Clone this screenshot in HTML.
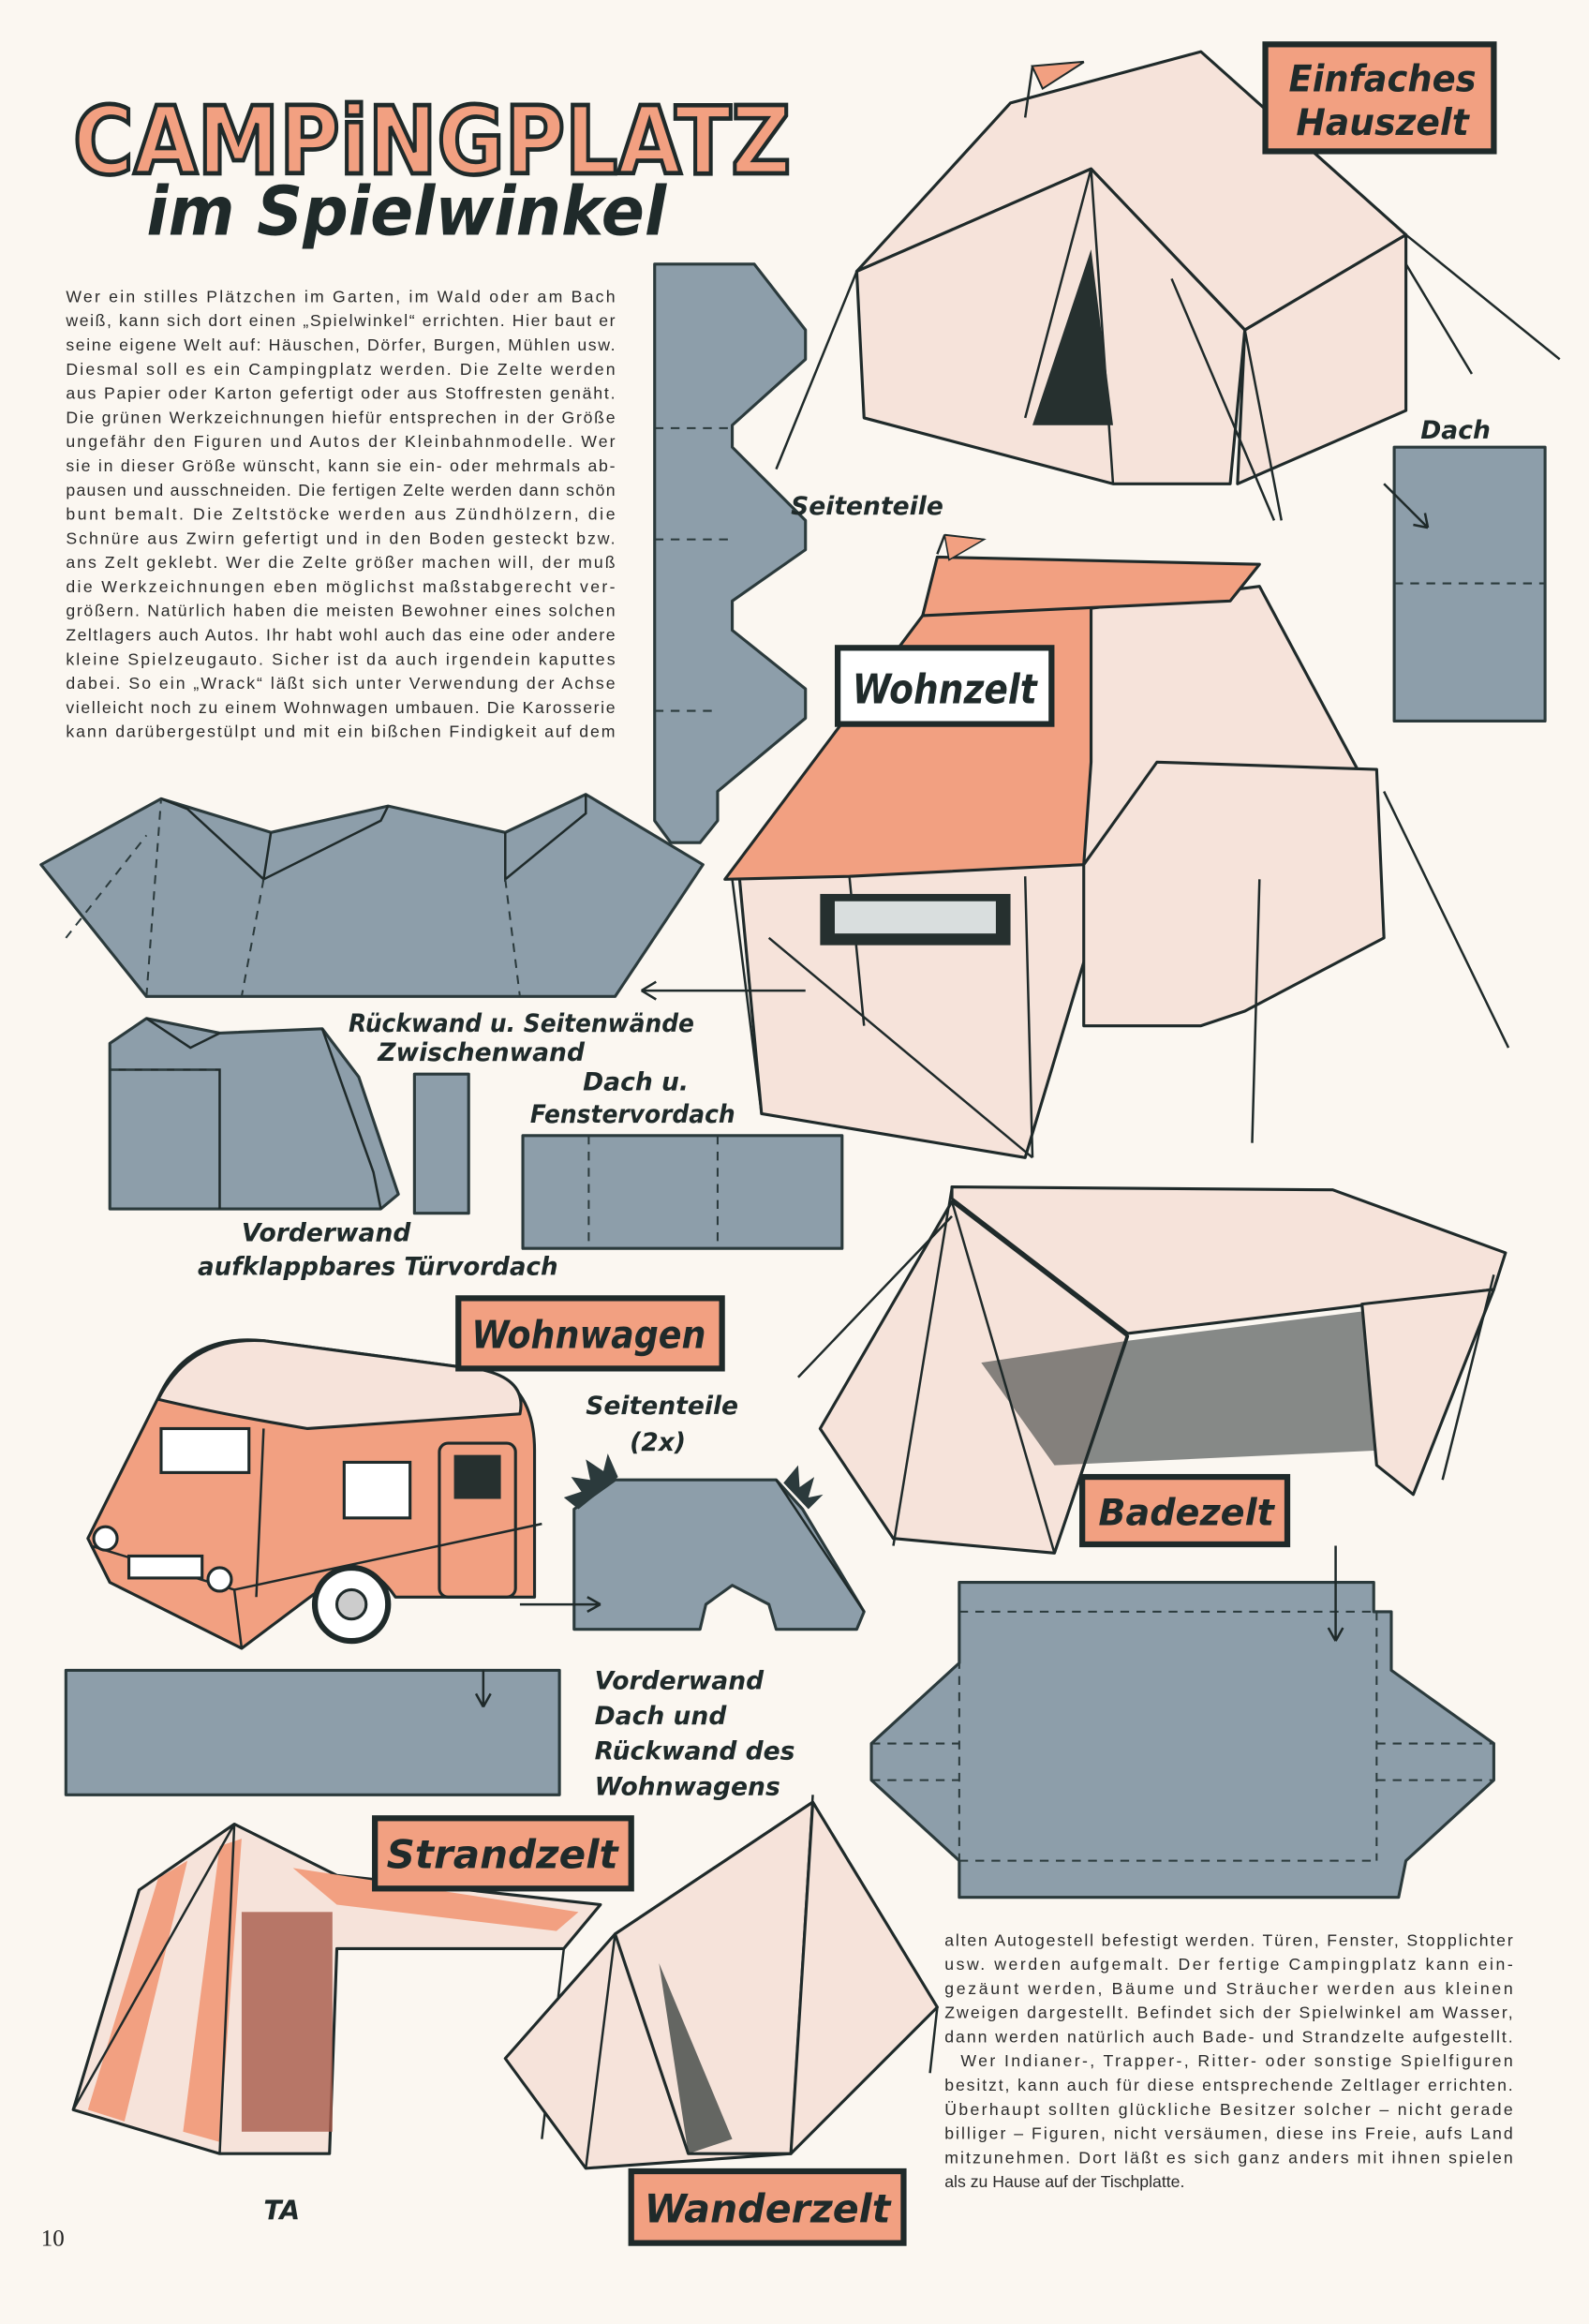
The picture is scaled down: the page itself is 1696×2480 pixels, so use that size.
<!DOCTYPE html>
<html><head><meta charset="utf-8"><style>
html,body{margin:0;padding:0;background:#fbf7f1}
svg{display:block}
.t{font-family:"Liberation Sans",sans-serif;font-size:11.3px;fill:#2a2a2a}
.h{font-family:"DejaVu Sans",sans-serif;font-weight:bold;font-style:italic;fill:#1f2a2a}
.g{fill:#8d9eaa;stroke:#2b3a3c;stroke-width:2;stroke-linejoin:round}
.d{fill:none;stroke:#2b3a3c;stroke-width:1.3;stroke-dasharray:6 5}
.ln{fill:none;stroke:#1f2a2a;stroke-width:1.6}
.pk{fill:#f6e3da;stroke:#1f2a2a;stroke-width:2;stroke-linejoin:round}
.sa{fill:#f2a081;stroke:#1f2a2a;stroke-width:2;stroke-linejoin:round}
.dk{fill:#26302f}
.box{fill:#f2a081;stroke:#1f2a2a;stroke-width:4}
</style></head><body>
<svg width="1696" height="2480" viewBox="0 0 1085 1586" xmlns="http://www.w3.org/2000/svg">
<rect width="1085" height="1586" fill="#fbf7f1"/>
<!-- Title -->
<text x="50" y="118" font-family="DejaVu Sans" font-weight="bold" font-size="64" fill="#f2a081" stroke="#1f2a2a" stroke-width="3" textLength="490" lengthAdjust="spacingAndGlyphs">CAMPiNGPLATZ</text>
<text x="100" y="160" class="h" font-size="46" textLength="355" lengthAdjust="spacingAndGlyphs" font-family="DejaVu Serif">im Spielwinkel</text>
<!-- Left paragraph -->
<g class="t">
<text x="45" y="206" textLength="375">Wer ein stilles Plätzchen im Garten, im Wald oder am Bach</text>
<text x="45" y="222.5" textLength="375">weiß, kann sich dort einen „Spielwinkel“ errichten. Hier baut er</text>
<text x="45" y="239" textLength="375">seine eigene Welt auf: Häuschen, Dörfer, Burgen, Mühlen usw.</text>
<text x="45" y="255.5" textLength="375">Diesmal soll es ein Campingplatz werden. Die Zelte werden</text>
<text x="45" y="272" textLength="375">aus Papier oder Karton gefertigt oder aus Stoffresten genäht.</text>
<text x="45" y="288.5" textLength="375">Die grünen Werkzeichnungen hiefür entsprechen in der Größe</text>
<text x="45" y="305" textLength="375">ungefähr den Figuren und Autos der Kleinbahnmodelle. Wer</text>
<text x="45" y="321.5" textLength="375">sie in dieser Größe wünscht, kann sie ein- oder mehrmals ab-</text>
<text x="45" y="338" textLength="375">pausen und ausschneiden. Die fertigen Zelte werden dann schön</text>
<text x="45" y="354.5" textLength="375">bunt bemalt. Die Zeltstöcke werden aus Zündhölzern, die</text>
<text x="45" y="371" textLength="375">Schnüre aus Zwirn gefertigt und in den Boden gesteckt bzw.</text>
<text x="45" y="387.5" textLength="375">ans Zelt geklebt. Wer die Zelte größer machen will, der muß</text>
<text x="45" y="404" textLength="375">die Werkzeichnungen eben möglichst maßstabgerecht ver-</text>
<text x="45" y="420.5" textLength="375">größern. Natürlich haben die meisten Bewohner eines solchen</text>
<text x="45" y="437" textLength="375">Zeltlagers auch Autos. Ihr habt wohl auch das eine oder andere</text>
<text x="45" y="453.5" textLength="375">kleine Spielzeugauto. Sicher ist da auch irgendein kaputtes</text>
<text x="45" y="470" textLength="375">dabei. So ein „Wrack“ läßt sich unter Verwendung der Achse</text>
<text x="45" y="486.5" textLength="375">vielleicht noch zu einem Wohnwagen umbauen. Die Karosserie</text>
<text x="45" y="503" textLength="375">kann darübergestülpt und mit ein bißchen Findigkeit auf dem</text>
</g>
<!-- Right bottom paragraph -->
<g class="t">
<text x="645" y="1328" textLength="388">alten Autogestell befestigt werden. Türen, Fenster, Stopplichter</text>
<text x="645" y="1344.5" textLength="388">usw. werden aufgemalt. Der fertige Campingplatz kann ein-</text>
<text x="645" y="1361" textLength="388">gezäunt werden, Bäume und Sträucher werden aus kleinen</text>
<text x="645" y="1377.5" textLength="388">Zweigen dargestellt. Befindet sich der Spielwinkel am Wasser,</text>
<text x="645" y="1394" textLength="388">dann werden natürlich auch Bade- und Strandzelte aufgestellt.</text>
<text x="656" y="1410.5" textLength="377">Wer Indianer-, Trapper-, Ritter- oder sonstige Spielfiguren</text>
<text x="645" y="1427" textLength="388">besitzt, kann auch für diese entsprechende Zeltlager errichten.</text>
<text x="645" y="1443.5" textLength="388">Überhaupt sollten glückliche Besitzer solcher – nicht gerade</text>
<text x="645" y="1460" textLength="388">billiger – Figuren, nicht versäumen, diese ins Freie, aufs Land</text>
<text x="645" y="1476.5" textLength="388">mitzunehmen. Dort läßt es sich ganz anders mit ihnen spielen</text>
<text x="645" y="1493">als zu Hause auf der Tischplatte.</text>
</g>
<text x="28" y="1533" font-family="Liberation Serif" font-size="16" fill="#222">10</text>

<!-- Tall vertical net -->
<polygon class="g" points="447,180 515,180 550,225 550,245 500,290 500,305 550,355 550,375 500,410 500,430 550,470 550,490 490,540 490,560 478,575 458,575 447,560"/>
<path class="d" d="M447,292 H500 M447,368 H500 M447,485 H490"/>
<!-- Big net -->
<polygon class="g" points="28,590 110,545 185,568 265,550 345,568 400,542 480,590 420,680 100,680"/>
<path class="ln" d="M110,545 L128,552 L180,600 M185,568 L180,600 L260,560 L265,550 M345,568 L345,600 L400,555 L400,542"/>
<path class="d" d="M100,680 L110,545 M180,600 L165,680 M345,600 L355,680 M45,640 L100,570"/>
<!-- Rückwand net -->
<polygon class="g" points="75,712 100,695 150,705 220,702 245,735 272,815 260,825 75,825"/>
<path class="ln" d="M100,695 L130,715 L150,705 M75,730 L150,730 L150,825 M220,702 L255,800 L260,825"/>
<path class="d" d="M75,730 L150,730"/>
<rect class="g" x="283" y="733" width="37" height="95"/>
<rect class="g" x="357" y="775" width="218" height="77"/>
<path class="d" d="M402,775 V852 M490,775 V852"/>
<!-- Dach rect -->
<rect class="g" x="952" y="305" width="103" height="187"/>
<path class="d" d="M952,398 H1055"/>
<path class="ln" d="M945,330 L975,360 M975,360 l-2,-10 M975,360 l-10,-2"/>
<!-- Wohnwagen side -->
<polygon class="g" points="392,1030 420,1010 530,1010 548,1030 590,1100 585,1112 530,1112 525,1095 500,1082 482,1095 478,1112 392,1112"/>
<path class="ln" d="M530,1010 L590,1100"/>
<polygon points="395,1030 385,1022 397,1018 390,1008 403,1010 400,996 412,1004 415,992 422,1008" fill="#2b3a3c"/>
<polygon points="535,1012 545,1000 546,1015 556,1008 552,1022 562,1020 552,1030" fill="#2b3a3c"/>
<!-- Long rect -->
<rect class="g" x="45" y="1140" width="337" height="85"/>
<!-- Badezelt net -->
<polygon class="g" points="595,1190 655,1135 655,1080 938,1080 938,1100 950,1100 950,1140 1020,1190 1020,1215 960,1270 955,1295 655,1295 655,1270 595,1215"/>
<path class="d" d="M655,1100 H940 M655,1270 H940 M655,1100 V1270 M940,1100 V1270 M595,1190 L655,1190 M940,1190 H1020 M595,1215 L655,1215 M940,1215 H1020"/>

<!-- Hauszelt -->
<polygon class="pk" points="585,185 690,70 820,35 960,160 850,225 745,115"/>
<polygon class="pk" points="585,185 745,115 850,225 840,330 760,330 590,285"/>
<polygon class="pk" points="850,225 960,160 960,280 845,330"/>
<path class="ln" d="M700,80 L705,45 M705,45 L740,42 L712,60 Z M745,115 L700,285 M745,115 L760,330 M820,35 L960,160 M585,185 L530,320 M960,160 L1065,245 M960,180 L1005,255 M850,225 L875,355 M800,190 L870,355"/>
<polygon class="dk" points="705,290 745,170 760,290"/>
<path d="M705,45 L740,42 L712,60 Z" fill="#f2a081" stroke="#1f2a2a"/>
<!-- Wohnzelt -->
<polygon class="pk" points="505,600 630,430 860,400 935,540 890,600 760,590 700,790 520,760"/>
<polygon class="sa" points="495,600 630,420 745,400 745,520 740,590 580,598"/>
<polygon class="sa" points="630,420 640,380 860,385 840,410"/>
<polygon class="pk" points="740,590 790,520 940,525 945,640 850,690 820,700 740,700"/>
<path class="ln" d="M500,600 L520,760 M580,598 L590,700 M700,598 L705,790 M860,600 L855,780 M945,540 L1030,715 M525,640 L705,790 M640,378 L645,365 M645,365 L670,368 L648,380"/>
<rect x="560" y="610" width="130" height="35" fill="#26302f"/>
<rect x="570" y="615" width="110" height="22" fill="#d9dede"/>
<path d="M645,365 L672,368 L648,382 Z" fill="#f2a081" stroke="#1f2a2a"/>
<rect x="572" y="442" width="146" height="52" fill="#fff" stroke="#1f2a2a" stroke-width="4"/>
<text x="582" y="480" class="h" font-size="28" textLength="126" lengthAdjust="spacingAndGlyphs">Wohnzelt</text>
<path class="ln" d="M550,676 H438 M438,676 l10,-6 M438,676 l10,6"/>
<!-- Badezelt -->
<polygon class="pk" points="650,810 910,812 1028,855 1020,880 770,910 650,818"/>
<polygon class="pk" points="560,975 650,820 770,912 720,1060 610,1050"/>
<polygon class="pk" points="930,890 1020,880 965,1020 940,1000"/>
<polygon class="dk" points="670,930 770,915 930,895 940,990 720,1000" opacity="0.55"/>
<path class="ln" d="M650,810 L610,1055 M770,910 L720,1060 M1020,870 L985,1010 M545,940 L650,830 M650,820 L720,1060"/>
<!-- Caravan -->
<path class="sa" d="M60,1050 L110,950 Q130,910 180,915 L330,935 Q365,945 365,990 L365,1090 L270,1090 Q250,1060 225,1080 L165,1125 L75,1080 Z"/>
<path class="pk" d="M108,955 Q130,912 180,915 L330,935 Q360,942 355,965 L210,975 Q150,965 108,955Z"/>
<path class="ln" d="M62,1055 L160,1085 L370,1040 M160,1085 L165,1125 M180,975 L175,1090"/>
<rect x="110" y="975" width="60" height="30" fill="#fff" stroke="#1f2a2a" stroke-width="2"/>
<rect x="235" y="998" width="45" height="38" fill="#fff" stroke="#1f2a2a" stroke-width="2"/>
<rect x="300" y="985" width="52" height="105" rx="6" fill="none" stroke="#1f2a2a" stroke-width="2"/>
<rect x="310" y="993" width="32" height="30" fill="#26302f"/>
<rect x="88" y="1062" width="50" height="15" fill="#fff" stroke="#1f2a2a" stroke-width="2"/>
<circle cx="240" cy="1095" r="25" fill="#fff" stroke="#1f2a2a" stroke-width="4"/>
<circle cx="240" cy="1095" r="10" fill="#ccc" stroke="#1f2a2a" stroke-width="2"/>
<circle cx="72" cy="1050" r="8" fill="#fff" stroke="#1f2a2a" stroke-width="2"/>
<circle cx="150" cy="1078" r="8" fill="#fff" stroke="#1f2a2a" stroke-width="2"/>
<path class="ln" d="M330,1140 V1165 M330,1165 l-5,-9 M330,1165 l5,-9 M355,1095 H410 M410,1095 l-9,-5 M410,1095 l-9,5 M912,1055 V1120 M912,1120 l-5,-9 M912,1120 l5,-9"/>
<!-- Strandzelt -->
<polygon class="pk" points="95,1290 160,1245 230,1280 410,1300 385,1330 230,1330 225,1470 150,1470 50,1440"/>
<path d="M108,1282 L60,1440 L85,1448 L128,1270 Z M150,1260 L125,1455 L150,1462 L165,1255 Z M200,1275 L230,1300 L380,1318 L395,1305 Z" fill="#f2a081"/>
<rect x="165" y="1305" width="62" height="150" fill="#a85a4a" opacity="0.8"/>
<path class="ln" d="M160,1245 L50,1440 M160,1245 L150,1470 M385,1330 L370,1460 M410,1300 L385,1330 M150,1470 L225,1470"/>
<!-- Wanderzelt -->
<polygon class="pk" points="345,1405 420,1320 555,1230 640,1370 540,1470 400,1480"/>
<polygon class="pk" points="420,1320 555,1230 540,1470 470,1470"/>
<path class="ln" d="M555,1225 L540,1470 M420,1320 L400,1480 M555,1230 L640,1370 M640,1370 L635,1415"/>
<polygon class="dk" points="450,1340 470,1470 500,1460" opacity="0.7"/>
<text x="180" y="1515" class="h" font-size="18">TA</text>

<!-- Label boxes -->
<rect class="box" x="864" y="30" width="156" height="73"/>
<text x="880" y="62" class="h" font-size="25" textLength="128" lengthAdjust="spacingAndGlyphs">Einfaches</text>
<text x="885" y="92" class="h" font-size="25" textLength="118" lengthAdjust="spacingAndGlyphs">Hauszelt</text>
<rect class="box" x="313" y="886" width="180" height="48"/>
<text x="322" y="920" class="h" font-size="26" textLength="160" lengthAdjust="spacingAndGlyphs">Wohnwagen</text>
<rect class="box" x="739" y="1008" width="140" height="46"/>
<text x="750" y="1041" class="h" font-size="25" textLength="120" lengthAdjust="spacingAndGlyphs">Badezelt</text>
<rect class="box" x="256" y="1241" width="175" height="48"/>
<text x="264" y="1275" class="h" font-size="27" textLength="158" lengthAdjust="spacingAndGlyphs">Strandzelt</text>
<rect class="box" x="431" y="1482" width="186" height="49"/>
<text x="440" y="1517" class="h" font-size="27" textLength="168" lengthAdjust="spacingAndGlyphs">Wanderzelt</text>

<!-- Handwritten labels -->
<g class="h" font-size="17">
<text x="540" y="351">Seitenteile</text>
<text x="970" y="299">Dach</text>
<text x="238" y="704" textLength="236" lengthAdjust="spacingAndGlyphs">Rückwand u. Seitenwände</text>
<text x="258" y="724">Zwischenwand</text>
<text x="398" y="744">Dach u.</text>
<text x="362" y="766" textLength="140" lengthAdjust="spacingAndGlyphs">Fenstervordach</text>
<text x="165" y="847">Vorderwand</text>
<text x="135" y="870" textLength="246" lengthAdjust="spacingAndGlyphs">aufklappbares Türvordach</text>
<text x="400" y="965">Seitenteile</text>
<text x="430" y="990">(2x)</text>
<text x="406" y="1153">Vorderwand</text>
<text x="406" y="1177">Dach und</text>
<text x="406" y="1201">Rückwand des</text>
<text x="406" y="1225">Wohnwagens</text>
</g>
</svg>
</body></html>
